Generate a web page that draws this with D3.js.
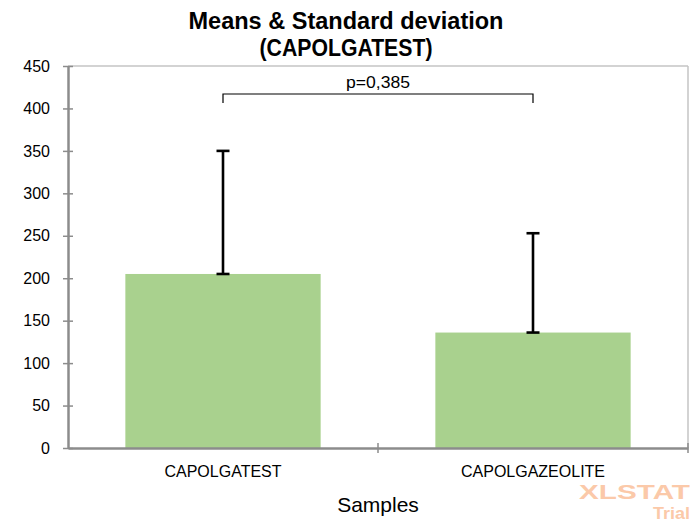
<!DOCTYPE html>
<html><head><meta charset="utf-8">
<script src="https://cdn.jsdelivr.net/npm/d3@7"></script>
<style>body{margin:0;background:#fff}svg{display:block}</style>
</head><body>
<script>
const categories = ["CAPOLGATEST", "CAPOLGAZEOLITE"];
const means = [205, 136];
const sds = [145, 117];
const yTicks = [0, 50, 100, 150, 200, 250, 300, 350, 400, 450];
const pLabel = "p=0,385";
const pBracketValue = 417;

const W = 690, H = 522;
const m = {left: 68, right: 2, top: 66, bottom: 74};
const svg = d3.select("body").append("svg").attr("width", W).attr("height", H);
const font = "Liberation Sans, Arial, sans-serif";

const x = d3.scaleBand().domain(categories).range([m.left, W - m.right]).paddingInner(0.37).paddingOuter(0.185);
const xb = d3.scaleBand().domain(categories).range([m.left, W - m.right]);
const y = d3.scaleLinear().domain([0, 450]).range([H - m.bottom, m.top]);

// frame (top/right)
svg.append("line").attr("x1", m.left).attr("x2", W - m.right).attr("y1", y(450)).attr("y2", y(450)).attr("stroke", "#c4c4c4").attr("stroke-width", 1.5);
svg.append("line").attr("x1", W - m.right).attr("x2", W - m.right).attr("y1", y(450)).attr("y2", y(0)).attr("stroke", "#c4c4c4").attr("stroke-width", 1.5);

// bars
svg.selectAll("rect.bar").data(categories).join("rect")
  .attr("x", d => x(d)).attr("width", x.bandwidth())
  .attr("y", (d, i) => y(means[i])).attr("height", (d, i) => y(0) - y(means[i]))
  .attr("fill", "#a9d18e");

// error bars
const cx = d => x(d) + x.bandwidth() / 2;
categories.forEach((d, i) => {
  const g = svg.append("g").attr("stroke", "#000").attr("stroke-width", 2.6);
  g.append("line").attr("x1", cx(d)).attr("x2", cx(d)).attr("y1", y(means[i])).attr("y2", y(means[i] + sds[i]));
  [means[i], means[i] + sds[i]].forEach(v => {
    g.append("line").attr("x1", cx(d) - 6.5).attr("x2", cx(d) + 6.5).attr("y1", y(v)).attr("y2", y(v));
  });
});

// y axis
const ya = svg.append("g").attr("transform", `translate(${m.left},0)`)
  .call(d3.axisLeft(y).tickValues(yTicks).tickSizeInner(5).tickSizeOuter(0).tickPadding(6));
ya.select(".domain").attr("stroke", "#8c8c8c").attr("stroke-width", 2.5);
ya.selectAll(".tick line").attr("stroke", "#8c8c8c").attr("stroke-width", 1.5).attr("x1", -5).attr("x2", 5);
ya.selectAll("text").attr("font-family", font).attr("font-size", 16).attr("fill", "#000").attr("x", -18);

// x axis
const xa = svg.append("g").attr("transform", `translate(0,${y(0)})`)
  .call(d3.axisBottom(xb).tickSize(0).tickPadding(0));
xa.select(".domain").attr("stroke", "#8c8c8c").attr("stroke-width", 2.5);
xa.selectAll("text").attr("font-family", font).attr("font-size", 16).attr("fill", "#000")
  .attr("dy", null).attr("y", 29);
// separator ticks
const seps = [xb(categories[1]), xb(categories[1]) + xb.bandwidth()];
xa.selectAll("line.sep").data(seps).join("line").attr("class", "sep")
  .attr("x1", d => d).attr("x2", d => d).attr("y1", -5).attr("y2", 5)
  .attr("stroke", "#8c8c8c").attr("stroke-width", 1.5);

// p bracket
const px1 = cx(categories[0]), px2 = cx(categories[1]);
svg.append("path")
  .attr("d", `M${px1},${y(pBracketValue) + 9}V${y(pBracketValue)}H${px2}V${y(pBracketValue) + 9}`)
  .attr("fill", "none").attr("stroke", "#000").attr("stroke-width", 1.2);
svg.append("text").attr("x", (px1 + px2) / 2).attr("y", y(pBracketValue) - 6)
  .attr("text-anchor", "middle").attr("font-family", font).attr("font-size", 16)
  .attr("textLength", 64).attr("lengthAdjust", "spacingAndGlyphs").text(pLabel);

// title
const t = svg.append("text").attr("text-anchor", "middle").attr("font-family", font)
  .attr("font-weight", "bold").attr("font-size", 23);
t.append("tspan").attr("x", 346).attr("y", 29).attr("textLength", 315).attr("lengthAdjust", "spacingAndGlyphs").text("Means & Standard deviation");
t.append("tspan").attr("x", 346).attr("y", 56).attr("textLength", 173).attr("lengthAdjust", "spacingAndGlyphs").text("(CAPOLGATEST)");

// axis title
svg.append("text").attr("x", (m.left + W - m.right) / 2).attr("y", 512).attr("text-anchor", "middle")
  .attr("font-family", font).attr("font-size", 21).text("Samples");

// watermark
svg.append("text").attr("x", 579).attr("y", 499).attr("font-family", font)
  .attr("font-weight", "bold").attr("font-size", 20).attr("fill", "#fbc9a9")
  .attr("textLength", 111).attr("lengthAdjust", "spacingAndGlyphs").text("XLSTAT");
svg.append("text").attr("x", 653).attr("y", 519).attr("font-family", font)
  .attr("font-weight", "bold").attr("font-size", 16).attr("fill", "#fbc9a9")
  .attr("textLength", 37).attr("lengthAdjust", "spacingAndGlyphs").text("Trial");
</script>
</body></html>
